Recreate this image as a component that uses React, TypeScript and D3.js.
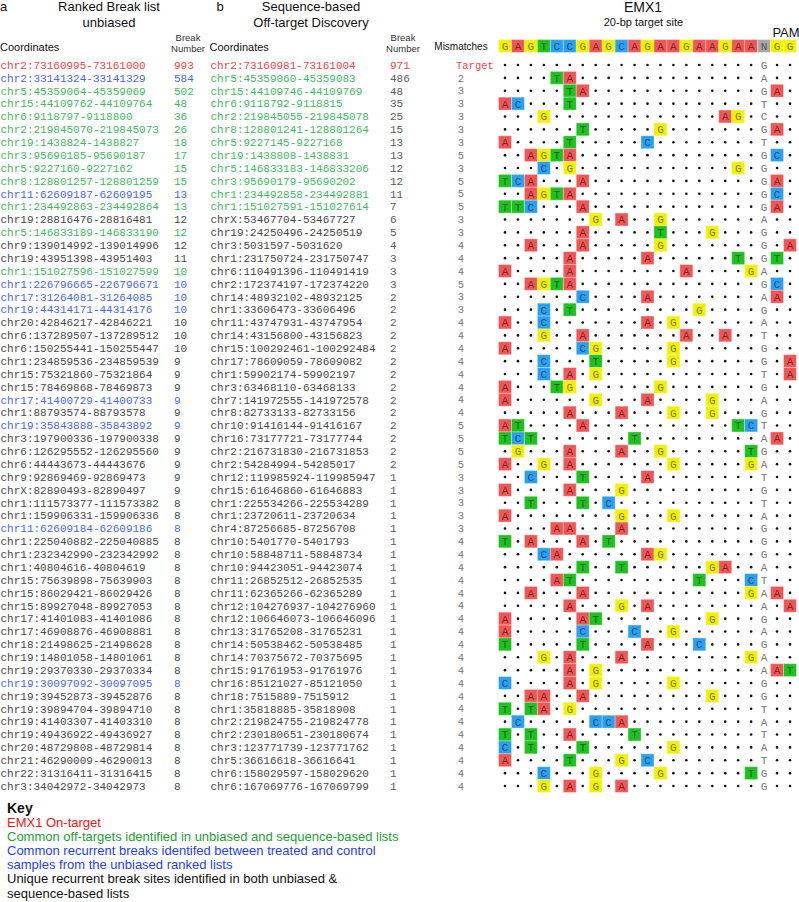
import React, { useEffect } from "react";
import * as d3 from "d3";

// ---------- DATA ----------
const unbiasedCoords = [
  "chr2:73160995-73161000", "chr2:33141324-33141329", "chr5:45359064-45359069", "chr15:44109762-44109764",
  "chr6:9118797-9118800", "chr2:219845070-219845073", "chr19:1438824-1438827", "chr3:95690185-95690187",
  "chr5:9227160-9227162", "chr8:128801257-128801259", "chr11:62609187-62609195", "chr1:234492863-234492864",
  "chr19:28816476-28816481", "chr5:146833189-146833190", "chr9:139014992-139014996", "chr19:43951398-43951403",
  "chr1:151027596-151027599", "chr1:226796665-226796671", "chr17:31264081-31264085", "chr19:44314171-44314176",
  "chr20:42846217-42846221", "chr6:137289507-137289512", "chr6:150255441-150255447", "chr1:234859536-234859539",
  "chr15:75321860-75321864", "chr15:78469868-78469873", "chr17:41400729-41400733", "chr1:88793574-88793578",
  "chr19:35843888-35843892", "chr3:197900336-197900338", "chr6:126295552-126295560", "chr6:44443673-44443676",
  "chr9:92869469-92869473", "chrX:82890493-82890497", "chr1:111573377-111573382", "chr1:159906331-159906336",
  "chr11:62609184-62609186", "chr1:225040882-225040885", "chr1:232342990-232342992", "chr1:40804616-40804619",
  "chr15:75639898-75639903", "chr15:86029421-86029426", "chr15:89927048-89927053", "chr17:41401083-41401086",
  "chr17:46908876-46908881", "chr18:21498625-21498628", "chr19:14801058-14801061", "chr19:29370330-29370334",
  "chr19:30097092-30097095", "chr19:39452873-39452876", "chr19:39894704-39894710", "chr19:41403307-41403310",
  "chr19:49436922-49436927", "chr20:48729808-48729814", "chr21:46290009-46290013", "chr22:31316411-31316415",
  "chr3:34042972-34042973",
];
const unbiasedBreaks = [
  993, 584, 502, 48, 36, 26, 18, 17, 15, 15, 13, 13, 12, 12, 12, 11, 10, 10, 10, 10, 10, 10, 10, 9, 9, 9, 9, 9, 9, 9,
  9, 9, 9, 9, 8, 8, 8, 8, 8, 8, 8, 8, 8, 8, 8, 8, 8, 8, 8, 8, 8, 8, 8, 8, 8, 8, 8,
];
// on = on-target, com = common off-target, rec = recurrent, uni = unique
const unbiasedGroups = [
  "on", "rec", "com", "com", "com", "com", "com", "com", "com", "com", "rec", "com", "uni", "com", "uni", "uni",
  "com", "rec", "rec", "rec", "uni", "uni", "uni", "uni", "uni", "uni", "rec", "uni", "rec", "uni", "uni", "uni",
  "uni", "uni", "uni", "uni", "rec", "uni", "uni", "uni", "uni", "uni", "uni", "uni", "uni", "uni", "uni", "uni",
  "rec", "uni", "uni", "uni", "uni", "uni", "uni", "uni", "uni",
];

const seqCoords = [
  "chr2:73160981-73161004", "chr5:45359060-45359083", "chr15:44109746-44109769", "chr6:9118792-9118815",
  "chr2:219845055-219845078", "chr8:128801241-128801264", "chr5:9227145-9227168", "chr19:1438808-1438831",
  "chr5:146833183-146833206", "chr3:95690179-95690202", "chr1:234492858-234492881", "chr1:151027591-151027614",
  "chrX:53467704-53467727", "chr19:24250496-24250519", "chr3:5031597-5031620", "chr1:231750724-231750747",
  "chr6:110491396-110491419", "chr2:172374197-172374220", "chr14:48932102-48932125", "chr1:33606473-33606496",
  "chr11:43747931-43747954", "chr14:43156800-43156823", "chr15:100292461-100292484", "chr17:78609059-78609082",
  "chr1:59902174-59902197", "chr3:63468110-63468133", "chr7:141972555-141972578", "chr8:82733133-82733156",
  "chr10:91416144-91416167", "chr16:73177721-73177744", "chr2:216731830-216731853", "chr2:54284994-54285017",
  "chr12:119985924-119985947", "chr15:61646860-61646883", "chr1:225534266-225534289", "chr1:23720611-23720634",
  "chr4:87256685-87256708", "chr10:5401770-5401793", "chr10:58848711-58848734", "chr10:94423051-94423074",
  "chr11:26852512-26852535", "chr11:62365266-62365289", "chr12:104276937-104276960", "chr12:106646073-106646096",
  "chr13:31765208-31765231", "chr14:50538462-50538485", "chr14:70375672-70375695", "chr15:91761953-91761976",
  "chr16:85121027-85121050", "chr18:7515889-7515912", "chr1:35818885-35818908", "chr2:219824755-219824778",
  "chr2:230180651-230180674", "chr3:123771739-123771762", "chr5:36616618-36616641", "chr6:158029597-158029620",
  "chr6:167069776-167069799",
];
const seqBreaks = [
  971, 486, 48, 35, 25, 15, 13, 13, 12, 12, 11, 7, 6, 5, 4, 3, 3, 3, 2, 2, 2, 2, 2, 2, 2, 2, 2, 2, 2, 2, 2, 2,
  1, 1, 1, 1, 1, 1, 1, 1, 1, 1, 1, 1, 1, 1, 1, 1, 1, 1, 1, 1, 1, 1, 1, 1, 1,
];
const seqGroups = [
  "on", "com", "com", "com", "com", "com", "com", "com", "com", "com", "com", "com",
  ...Array(45).fill("uni"),
];

const targetSeq = "GAGTCCGAGCAGAAGAAGAANGG";
const mismatchLabels = [
  "Target", "2", "3", "3", "3", "3", "3", "5", "3", "5", "5", "5", "3", "3", "4", "4", "4", "5", "3", "3",
  "4", "4", "4", "4", "4", "4", "4", "4", "5", "5", "5", "5", "3", "3", "3", "3", "3", "4", "4", "4",
  "4", "4", "4", "4", "4", "4", "4", "4", "4", "4", "4", "4", "4", "4", "4", "4", "4",
];
const mismatchRows = [
  "....................G..", "....TA..............A..", ".....TA.............GA.", "AC...T..............T..",
  "...G.............AG.C..", "......T.....G.......GA.", "A....T.....C........T..", "..AGTA..............GC.",
  "...C.G............G.G..", "TCA...A.............GA.", "..AGTA..............GC.", "TTC...A.............GA.",
  ".......G.A..G.......A..", "......A.....T...G...G..", "..A...A.....G.......G.A", ".....A.....A......T.GT.",
  "A....A........A....GA..", "..AGTA..............GC.", "......C....A........AA.", "...C.T.........G....G..",
  "A..C.......A.G......A..", "...G..A.......A..A..T..", "A.....CG.....G......G..", "...C...T.....G......G.A",
  "...C.A.G............T.A", "A...TG......G.......G..", "A......G...A....G...A..", ".....A...A...G..G...G..",
  "AT....A...........TCT..", "TCT.......T.........AA.", ".G...A...A..G......TG..", "A..G.A.......G.....GA..",
  "..C...T....A........T..", "A....A...G..........G..", "..T...T.C...........T..", "A........G...G......A..",
  "....AA...A..........G..", "T.A...A.T...........G..", "...CA......AG.......G..", "......T..T......GA..A..",
  "....AT.........T...CT..", "..A...A............GAA.", ".....A...G.A........A.A", "A.....AT........G...G..",
  "A.....C...C..G......A..", "T.....T....A...C....G..", "...G.A...A.........GA..", ".....A.G............AAT",
  "C....A.G.....G......G..", "..AA..A.........G...G..", "T.TA.G..............T..", ".C.....CCA..........A..",
  "T.T..A....T.........T..", "C.T...T......G......A..", "A....T...G.C........T..", "...C...G....G......TG..",
  "...G.A.G.A..........G..",
];

const keyLines = [
  { text: "EMX1 On-target", group: "on" },
  { text: "Common off-targets identified in unbiased and sequence-based lists", group: "com" },
  { text: "Common recurrent breaks identifed between treated and control", group: "rec" },
  { text: "samples from the unbiased ranked lists", group: "rec" },
  { text: "Unique recurrent break sites identified in both unbiased &", group: "uni" },
  { text: "sequence-based lists", group: "uni" },
];

// ---------- STYLE ----------
const listColor: Record<string, string> = { on: "#f04444", com: "#3fb95f", rec: "#4767e6", uni: "#474747" };
const keyColor: Record<string, string> = { on: "#f01414", com: "#1e9e33", rec: "#1f3ff0", uni: "#111111" };
const baseColor: Record<string, string> = { A: "#f05656", C: "#2ca0f0", G: "#f2f200", T: "#1ec21e", N: "#a8a8a8" };

const SANS = "'Liberation Sans', Arial, sans-serif";
const MONO = "'Liberation Mono', 'Courier New', monospace";

export default function App() {
  useEffect(() => {
    document.body.style.margin = "0";
  }, []);

  const n = mismatchRows.length;
  const rowY = d3.scaleLinear().domain([0, n - 1]).range([65, 786]);
  const colX = d3.scaleLinear().domain([0, targetSeq.length - 1]).range([505, 790]);
  const cw = colX(1) - colX(0);
  const ch = rowY(1) - rowY(0);
  const headerY = 46;

  const cell = (b: string, cx: number, cy: number, key: string) => (
    <g key={key}>
      <rect x={cx - cw / 2} y={cy - ch / 2} width={cw} height={ch} fill={baseColor[b]}
        stroke="#ffffff" strokeOpacity={0.3} strokeWidth={1} />
      <text x={cx} y={cy} dy="0.36em" textAnchor="middle" fontFamily={MONO} fontSize={11}
        fill="rgba(0,0,0,0.55)">{b}</text>
    </g>
  );

  return (
    <svg width={799} height={902} style={{ position: "absolute", left: 0, top: 0, background: "#fff" }}>
      {/* Panel titles */}
      <text x={0} y={11} fontFamily={SANS} fontSize={13} fill="#111">a</text>
      <text x={109} y={11} textAnchor="middle" fontFamily={SANS} fontSize={13} fill="#111">Ranked Break list</text>
      <text x={109} y={26.5} textAnchor="middle" fontFamily={SANS} fontSize={13} fill="#111">unbiased</text>
      <text x={216.5} y={11} fontFamily={SANS} fontSize={13} fill="#111">b</text>
      <text x={311} y={11} textAnchor="middle" fontFamily={SANS} fontSize={13} fill="#111">Sequence-based</text>
      <text x={311} y={26.5} textAnchor="middle" fontFamily={SANS} fontSize={13} fill="#111">Off-target Discovery</text>
      <text x={643} y={11.5} textAnchor="middle" fontFamily={SANS} fontSize={14} fill="#111">EMX1</text>
      <text x={643.5} y={26} textAnchor="middle" fontFamily={SANS} fontSize={11} fill="#111">20-bp target site</text>
      <text x={786} y={37} textAnchor="middle" fontFamily={SANS} fontSize={13} fill="#111">PAM</text>

      {/* Column headers */}
      <text x={0} y={50.5} fontFamily={SANS} fontSize={11} fill="#111">Coordinates</text>
      <text x={188} y={40.5} textAnchor="middle" fontFamily={SANS} fontSize={9.5} fill="#333">Break</text>
      <text x={188} y={52} textAnchor="middle" fontFamily={SANS} fontSize={9.5} fill="#333">Number</text>
      <text x={209.5} y={50.5} fontFamily={SANS} fontSize={11} fill="#111">Coordinates</text>
      <text x={403} y={40.5} textAnchor="middle" fontFamily={SANS} fontSize={9.5} fill="#333">Break</text>
      <text x={403} y={52} textAnchor="middle" fontFamily={SANS} fontSize={9.5} fill="#333">Number</text>
      <text x={461} y={headerY} dy="0.35em" textAnchor="middle" fontFamily={SANS} fontSize={10} fill="#111">Mismatches</text>

      {/* Target sequence header */}
      {targetSeq.split("").map((b, j) => cell(b, colX(j), headerY, `h${j}`))}

      {/* Unbiased list */}
      {unbiasedCoords.map((c, i) => (
        <g key={`u${i}`} fill={listColor[unbiasedGroups[i]]} fontFamily={MONO} fontSize={11}>
          <text x={0.5} y={rowY(i)} dy="0.35em">{c}</text>
          <text x={174} y={rowY(i)} dy="0.35em">{unbiasedBreaks[i]}</text>
        </g>
      ))}

      {/* Sequence-based list */}
      {seqCoords.map((c, i) => (
        <g key={`s${i}`} fontFamily={MONO} fontSize={11}>
          <text x={210.5} y={rowY(i)} dy="0.35em" fill={listColor[seqGroups[i]]}>{c}</text>
          <text x={390} y={rowY(i)} dy="0.35em" fill={i === 0 ? listColor.on : "#5a5a5a"}>{seqBreaks[i]}</text>
        </g>
      ))}

      {/* Mismatch labels */}
      {mismatchLabels.map((m, i) =>
        i === 0 ? (
          <text key={`m${i}`} x={456} y={rowY(i)} dy="0.35em" fontFamily={MONO} fontSize={10.5} fill={listColor.on}>{m}</text>
        ) : (
          <text key={`m${i}`} x={461} y={rowY(i)} dy="0.35em" textAnchor="middle" fontFamily={MONO} fontSize={10.5} fill="#777">{m}</text>
        )
      )}

      {/* Mismatch grid */}
      {mismatchRows.map((row, i) => (
        <g key={`r${i}`}>
          {row.split("").map((b, j) => {
            const cx = colX(j);
            const cy = rowY(i);
            if (j === 20) {
              return (
                <text key={j} x={cx} y={cy} dy="0.36em" textAnchor="middle" fontFamily={MONO} fontSize={11} fill="#777">{b}</text>
              );
            }
            if (b === ".") return <circle key={j} cx={cx} cy={cy} r={1.3} fill="#111" />;
            return cell(b, cx, cy, `${j}`);
          })}
        </g>
      ))}

      {/* Key */}
      <text x={7} y={813} fontFamily={SANS} fontSize={14} fontWeight="bold" fill="#111">Key</text>
      {keyLines.map((k, i) => (
        <text key={`k${i}`} x={7} y={826.5 + i * 14.2} fontFamily={SANS} fontSize={13} fill={keyColor[k.group]}>{k.text}</text>
      ))}
    </svg>
  );
}
